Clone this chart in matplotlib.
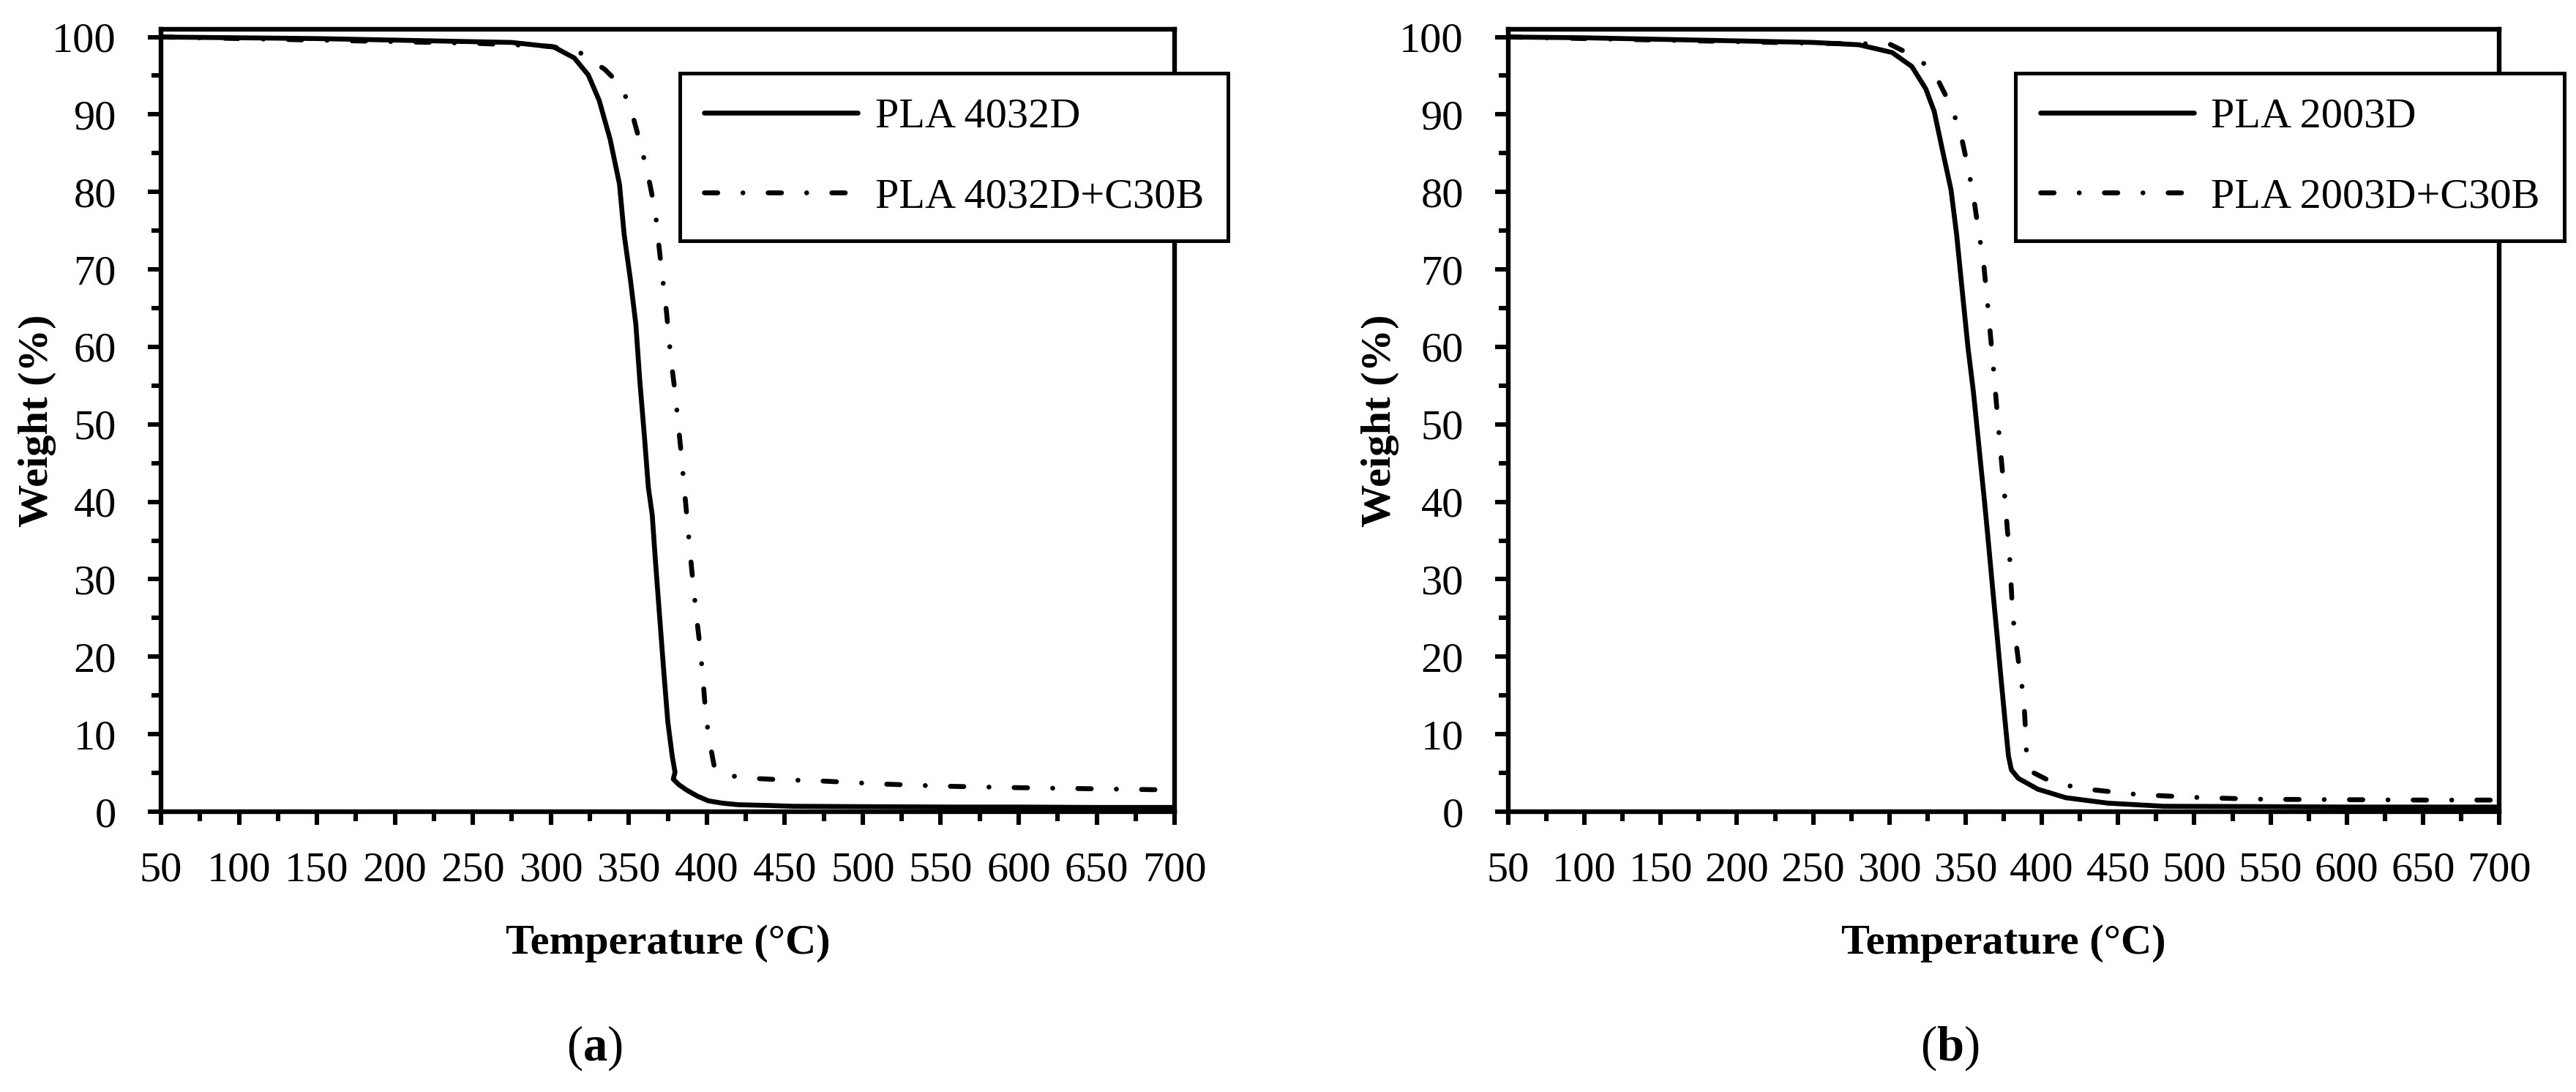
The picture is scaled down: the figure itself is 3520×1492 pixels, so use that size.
import matplotlib
matplotlib.use('Agg')
import matplotlib.pyplot as plt
from matplotlib.ticker import MultipleLocator

plt.rcParams['font.family'] = 'Liberation Serif'
plt.rcParams['mathtext.fontset'] = 'custom'
plt.rcParams['mathtext.rm'] = 'Liberation Serif'
plt.rcParams['mathtext.bf'] = 'Liberation Serif:bold'

# (a) PLA 4032D
temp_4032 = [50, 100, 150, 200, 250, 275, 302, 315, 324, 331, 338, 344, 347, 351, 354.5, 357, 360,
             362.5, 365, 367, 369.7, 372.4, 375, 377.8, 379.6, 378.5, 382, 387, 394, 401, 410, 420,
             440, 455, 500, 557, 600, 650, 700]
wt_4032 = [100, 99.9, 99.8, 99.6, 99.4, 99.3, 98.7, 97.3, 95.1, 91.8, 86.8, 81, 74.5, 68.7, 62.9, 55.7,
           48.4, 41.9, 38.3, 32.5, 25.3, 18.1, 11.6, 7.2, 5.1, 4.2, 3.5, 2.8, 2.0, 1.4, 1.1, 0.9,
           0.8, 0.7, 0.65, 0.6, 0.6, 0.55, 0.55]

# (a) PLA 4032D+C30B
temp_4032_c30b = [50, 100, 150, 200, 250, 300, 318.6, 334.7, 345.5, 352.7, 358.1, 363.5, 367, 369.7,
                  374.2, 376.9, 379.6, 383.2, 386.8, 390.4, 393.1, 395.8, 397.6, 399.4, 402.1, 404.8,
                  408, 412, 430, 450, 470, 509, 550, 600, 650, 700]
wt_4032_c30b = [100, 99.8, 99.6, 99.4, 99.2, 98.8, 98, 95.8, 93.6, 89.7, 85.7, 81, 77.4, 72.3,
                64.4, 58.6, 54.2, 47, 39, 31.1, 25.7, 21, 17, 12.3, 8.7, 5.8,
                5.0, 4.7, 4.3, 4.1, 4.0, 3.6, 3.3, 3.1, 2.95, 2.8]

# (b) PLA 2003D
temp_2003 = [50, 100, 150, 200, 250, 280, 301.8, 314.7, 323.9, 329.4, 334.9, 340.4, 344.1, 347.8,
             351.5, 355.1, 358.8, 362.5, 365.3, 368, 370.8, 373.5, 376.3, 378.1, 380, 384.6, 397.4,
             415.8, 443.4, 480, 550, 600, 650, 700]
wt_2003 = [100, 99.9, 99.7, 99.5, 99.3, 99.0, 98.0, 96.2, 93.3, 90.4, 85.3, 80.3, 74.5, 67.2,
           60, 54.2, 47, 39.8, 34, 28.2, 22.4, 16.6, 10.8, 7.2, 5.4, 4.3, 2.9,
           1.8, 1.1, 0.7, 0.65, 0.6, 0.6, 0.6]

# (b) PLA 2003D+C30B
temp_2003_c30b = [50, 150, 200, 250, 300, 318.4, 329.4, 338.6, 346, 351.5, 355.1, 358.8, 361.6, 364.3,
                  368, 371.7, 375.4, 379, 380.9, 384.6, 388.2, 389.2, 390, 393.8, 404.8, 425, 463.6,
                  505.9, 546, 600, 650, 700]
wt_2003_c30b = [100, 99.6, 99.4, 99.2, 99.1, 97.3, 95.4, 91.8, 88.2, 83.2, 79.5, 74.5, 71.2, 65.8,
                57.8, 49.2, 41.2, 32.5, 25.3, 19.5, 14.5, 10.8, 7.2, 5.1, 4.0, 3.0, 2.2,
                1.8, 1.6, 1.55, 1.5, 1.5]

x_ticks = list(range(50, 701, 50))
y_ticks = list(range(0, 101, 10))

FS = 21
LW = 2.4
DASHDOT = (2.75, 5.15, 0.01, 5.15)


def draw_panel(ax, t1, w1, t2, w2, labels, ylabel_x):
    ax.plot(t1, w1, color='black', lw=LW, solid_capstyle='round', solid_joinstyle='round',
            label=labels[0])
    ax.plot(t2, w2, color='black', lw=LW, dashes=DASHDOT, dash_capstyle='round',
            dash_joinstyle='round', label=labels[1])

    ax.set_xlim(50, 700)
    ax.set_ylim(0, 101)
    ax.set_xticks(x_ticks)
    ax.set_yticks(y_ticks)
    ax.xaxis.set_minor_locator(MultipleLocator(25))
    ax.yaxis.set_minor_locator(MultipleLocator(5))

    for s in ax.spines.values():
        s.set_linewidth(2.3)

    ax.tick_params(axis='x', which='major', direction='out', length=6.5, width=2.2,
                   labelsize=FS, pad=13)
    ax.tick_params(axis='x', which='minor', direction='out', length=4.5, width=2.2)
    ax.tick_params(axis='y', which='major', direction='out', length=6.5, width=2.2,
                   labelsize=FS, pad=15.5)
    ax.tick_params(axis='y', which='minor', direction='out', length=4.7, width=2.2)

    ax.set_xlabel('Temperature (°C)', fontsize=FS, fontweight='bold', va='baseline')
    ax.xaxis.set_label_coords(0.5, -0.1815)
    ax.set_ylabel('Weight (%)', fontsize=FS, fontweight='bold', va='center')
    ax.yaxis.set_label_coords(ylabel_x, 0.5)

    leg = ax.legend(loc='upper left', bbox_to_anchor=(0.512, 0.944), borderaxespad=0,
                    fontsize=FS, handlelength=3.6, handletextpad=0.4, labelspacing=0.97,
                    borderpad=0.57, fancybox=False, framealpha=1, edgecolor='black')
    leg.get_frame().set_linewidth(1.8)


fig = plt.figure(figsize=(17.6, 7.46), dpi=200)

ax_a = fig.add_axes([0.0625, 0.2567, 0.3935, 0.7165])
draw_panel(ax_a, temp_4032, wt_4032, temp_4032_c30b, wt_4032_c30b,
           ['PLA 4032D', 'PLA 4032D+C30B'], -0.122)

ax_b = fig.add_axes([0.5855, 0.2567, 0.3847, 0.7165])
draw_panel(ax_b, temp_2003, wt_2003, temp_2003_c30b, wt_2003_c30b,
           ['PLA 2003D', 'PLA 2003D+C30B'], -0.129)

fig.text(0.2307, 0.0402, r'($\mathbf{a}$)', ha='center', va='center', fontsize=24)
fig.text(0.757, 0.0402, r'($\mathbf{b}$)', ha='center', va='center', fontsize=24)

fig.savefig('out.png', dpi=200)
